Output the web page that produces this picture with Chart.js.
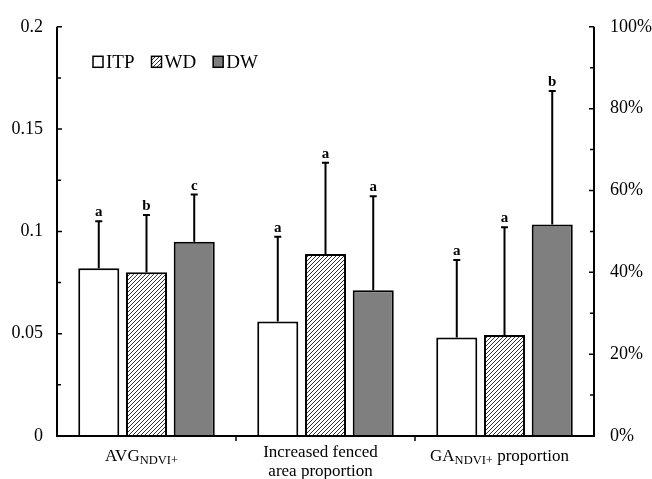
<!DOCTYPE html>
<html>
<head>
<meta charset="utf-8">
<script src="https://cdn.jsdelivr.net/npm/chart.js@4/dist/chart.umd.min.js"></script>
<style>
  html, body { margin: 0; padding: 0; background: #fff; }
  #wrap { width: 652px; height: 479px; position: relative; }
</style>
</head>
<body>
<div id="wrap"><canvas id="chart"></canvas></div>
<script>
// Categories (plain names) and their rich text runs for the axis labels
const categories = ['AVG NDVI+', 'Increased fenced area proportion', 'GA NDVI+ proportion'];
const categoryRuns = [
  [[{ t: 'AVG' }, { t: 'NDVI+', sub: true }]],
  [[{ t: 'Increased fenced' }], [{ t: 'area proportion' }]],
  [[{ t: 'GA' }, { t: 'NDVI+', sub: true }, { t: ' proportion' }]]
];
// Unit of each category: NDVI on the left axis, percent on the right axis
const categoryUnits = ['ndvi', 'pct', 'pct'];

const seriesNames = ['ITP', 'WD', 'DW'];

// Means and standard deviations per series
const itpMean = [0.082, 28.0, 24.1];
const itpSd   = [0.023, 20.7, 18.9];
const wdMean  = [0.080, 44.5, 24.7];
const wdSd    = [0.028, 22.3, 26.3];
const dwMean  = [0.095, 35.6, 51.7];
const dwSd    = [0.023, 23.0, 32.6];

// Significance letters above the error bars
const itpLetters = ['a', 'a', 'a'];
const wdLetters  = ['b', 'a', 'a'];
const dwLetters  = ['c', 'a', 'b'];

// Axis ticks
const leftTicks  = [0, 0.05, 0.1, 0.15, 0.2];
const rightTicks = [0, 20, 40, 60, 80, 100];

const LEFT_MAX = leftTicks[leftTicks.length - 1];
const RIGHT_MAX = rightTicks[rightTicks.length - 1];
const toLeft = (v, i) => categoryUnits[i] === 'pct' ? v * LEFT_MAX / RIGHT_MAX : v;

const SERIF = '"Liberation Serif", "Times New Roman", serif';

function hatchPattern() {
  const c = document.createElement('canvas');
  c.width = 4; c.height = 4;
  const g = c.getContext('2d');
  g.fillStyle = '#fff';
  g.fillRect(0, 0, 4, 4);
  g.strokeStyle = '#333';
  g.lineWidth = 1;
  g.beginPath();
  g.moveTo(-1, 5); g.lineTo(5, -1);
  g.moveTo(-1, 1); g.lineTo(1, -1);
  g.moveTo(3, 5); g.lineTo(5, 3);
  g.stroke();
  return document.getElementById('chart').getContext('2d').createPattern(c, 'repeat');
}

const fills = ['#ffffff', hatchPattern(), '#7f7f7f'];
const means = [itpMean, wdMean, dwMean];
const sds = [itpSd, wdSd, dwSd];
const letters = [itpLetters, wdLetters, dwLetters];

const datasets = seriesNames.map((name, s) => ({
  label: name,
  data: means[s].map((v, i) => toLeft(v, i)),
  sd: sds[s].map((v, i) => toLeft(v, i)),
  letters: letters[s],
  backgroundColor: fills[s],
  borderColor: '#000',
  borderWidth: 2,
  borderSkipped: 'bottom',
  yAxisID: 'y',
  categoryPercentage: 0.8,
  barPercentage: 0.86
}));

const decorations = {
  id: 'decorations',
  afterDatasetsDraw(chart) {
    const ctx = chart.ctx;
    const a = chart.chartArea;
    const y = chart.scales.y;
    const y1 = chart.scales.y1;
    const x = chart.scales.x;
    ctx.save();
    ctx.strokeStyle = '#000';
    ctx.fillStyle = '#000';

    // error bars and letters
    chart.data.datasets.forEach((ds, s) => {
      const meta = chart.getDatasetMeta(s);
      meta.data.forEach((bar, i) => {
        const top = y.getPixelForValue(ds.data[i] + ds.sd[i]);
        ctx.lineWidth = 2;
        ctx.beginPath();
        ctx.moveTo(bar.x, bar.y);
        ctx.lineTo(bar.x, top);
        ctx.moveTo(bar.x - 3.5, top);
        ctx.lineTo(bar.x + 3.5, top);
        ctx.stroke();
        ctx.font = 'bold 15px ' + SERIF;
        ctx.textAlign = 'center';
        ctx.textBaseline = 'alphabetic';
        ctx.fillText(ds.letters[i], bar.x, top - 5);
      });
    });

    // axis lines
    ctx.lineWidth = 2;
    ctx.beginPath();
    ctx.moveTo(a.left, a.top);
    ctx.lineTo(a.left, a.bottom);
    ctx.lineTo(a.right, a.bottom);
    ctx.lineTo(a.right, a.top);
    ctx.stroke();

    // left axis ticks (major + minor, pointing inward)
    ctx.lineWidth = 1.5;
    ctx.beginPath();
    for (let k = 0; k < leftTicks.length; k++) {
      const py = y.getPixelForValue(leftTicks[k]);
      ctx.moveTo(a.left, py); ctx.lineTo(a.left + 5, py);
      if (k < leftTicks.length - 1) {
        const pm = y.getPixelForValue((leftTicks[k] + leftTicks[k + 1]) / 2);
        ctx.moveTo(a.left, pm); ctx.lineTo(a.left + 4, pm);
      }
    }
    // right axis ticks
    for (let k = 0; k < rightTicks.length; k++) {
      const py = y1.getPixelForValue(rightTicks[k]);
      ctx.moveTo(a.right, py); ctx.lineTo(a.right - 5, py);
      if (k < rightTicks.length - 1) {
        const pm = y1.getPixelForValue((rightTicks[k] + rightTicks[k + 1]) / 2);
        ctx.moveTo(a.right, pm); ctx.lineTo(a.right - 4, pm);
      }
    }
    // category boundary ticks (pointing down)
    const n = chart.data.labels.length;
    const step = (a.right - a.left) / n;
    for (let k = 1; k < n; k++) {
      const px = a.left + step * k;
      ctx.moveTo(px, a.bottom); ctx.lineTo(px, a.bottom + 5);
    }
    ctx.stroke();

    // category labels with subscripts
    const mainFont = '17px ' + SERIF;
    const subFont = '12.5px ' + SERIF;
    ctx.textAlign = 'left';
    ctx.textBaseline = 'middle';
    categoryRuns.forEach((lines, i) => {
      const cx = x.getPixelForValue(i);
      const lh = 19;
      const y0 = lines.length === 1 ? a.bottom + 21 : a.bottom + 17;
      lines.forEach((runs, li) => {
        let w = 0;
        runs.forEach(r => { ctx.font = r.sub ? subFont : mainFont; w += ctx.measureText(r.t).width; });
        let px = cx - w / 2 - 5;
        const py = y0 + li * lh;
        runs.forEach(r => {
          ctx.font = r.sub ? subFont : mainFont;
          ctx.fillText(r.t, px, r.sub ? py + 4 : py);
          px += ctx.measureText(r.t).width;
        });
      });
    });

    // legend
    ctx.font = '19px ' + SERIF;
    ctx.textBaseline = 'middle';
    let lx = a.left + 36;
    const ly = a.top + 35;
    chart.data.datasets.forEach(ds => {
      ctx.fillStyle = ds.backgroundColor;
      ctx.fillRect(lx, ly - 5.5, 10, 11);
      ctx.lineWidth = 1.5;
      ctx.strokeStyle = '#000';
      ctx.strokeRect(lx, ly - 5.5, 10, 11);
      ctx.fillStyle = '#000';
      ctx.fillText(ds.label, lx + 13, ly + 1);
      lx += 13 + ctx.measureText(ds.label).width + 17;
    });

    ctx.restore();
  }
};

new Chart(document.getElementById('chart'), {
  type: 'bar',
  data: { labels: categories, datasets },
  options: {
    responsive: true,
    maintainAspectRatio: false,
    animation: false,
    layout: { padding: { top: 21, left: 0, right: 0, bottom: 0 } },
    plugins: { legend: { display: false }, tooltip: { enabled: false } },
    scales: {
      x: {
        grid: { display: false },
        border: { display: false },
        ticks: { display: false },
        afterFit: s => { s.height = 43; }
      },
      y: {
        position: 'left',
        min: 0,
        max: LEFT_MAX,
        afterBuildTicks: s => { s.ticks = leftTicks.map(v => ({ value: v })); },
        ticks: {
          padding: 14,
          color: '#000',
          font: { family: SERIF, size: 18 },
          callback: v => String(+v.toFixed(3))
        },
        grid: { display: false, drawTicks: false },
        border: { display: false },
        afterFit: s => { s.width = 57; }
      },
      y1: {
        position: 'right',
        min: 0,
        max: RIGHT_MAX,
        afterBuildTicks: s => { s.ticks = rightTicks.map(v => ({ value: v })); },
        ticks: {
          padding: 16,
          color: '#000',
          font: { family: SERIF, size: 18 },
          callback: v => v + '%'
        },
        grid: { display: false, drawTicks: false },
        border: { display: false },
        afterFit: s => { s.width = 58; }
      }
    }
  },
  plugins: [decorations]
});
</script>
</body>
</html>
